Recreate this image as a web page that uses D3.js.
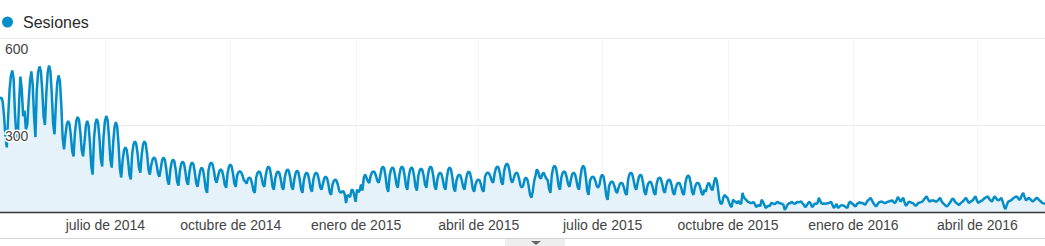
<!DOCTYPE html>
<html>
<head>
<meta charset="utf-8">
<style>
    body { margin: 0; background: #fff; }
    svg { display: block; font-family: Arial, "Liberation Sans", sans-serif; }
    .legend { font-size: 16px; fill: #2a2a2a; }
    .ylab { font-size: 14px; fill: #444; }
    .xaxis text { font-size: 14px; fill: #444; font-family: Arial, "Liberation Sans", sans-serif; }
</style>
<script src="https://d3js.org/d3.v7.min.js"></script>
</head>
<body>
<svg id="chart" width="1045" height="246"></svg>
<script>
    // daily sessions, first day = Tue 15 Apr 2014, one row per week (Mon..Sun)
    var firstDay = "2014-04-15";
    var sesiones = [
        390, 395, 380, 330, 260, 223,
        330, 420, 470, 488, 460, 340, 265,
        255, 380, 467, 420, 330, 350, 285,
        300, 380, 450, 485, 440, 330, 258,
        421, 482, 502, 486, 421, 330, 300,
        410, 481, 505, 486, 410, 304, 268,
        369, 446, 471, 451, 369, 254, 216,
        265, 302, 314, 304, 265, 210, 192,
        274, 314, 328, 317, 274, 212, 192,
        240, 296, 314, 299, 240, 157, 129,
        255, 305, 321, 308, 255, 182, 157,
        260, 313, 331, 317, 260, 180, 153,
        234, 291, 310, 295, 234, 148, 119,
        179, 212, 223, 214, 179, 129, 112,
        201, 233, 244, 235, 201, 152, 136,
        198, 233, 244, 235, 198, 146, 129,
        162, 181, 188, 183, 162, 132, 122,
        150, 179, 188, 180, 150, 108, 94,
        145, 172, 181, 174, 145, 104, 91,
        142, 166, 174, 168, 142, 106, 94,
        137, 163, 171, 164, 137, 100, 87,
        118, 144, 153, 146, 118, 79, 66,
        143, 164, 171, 165, 143, 112, 101,
        122, 141, 147, 142, 122, 93, 84,
        133, 156, 164, 158, 133, 99, 87,
        126, 137, 140, 137, 126, 110, 105,
        98, 114, 119, 115, 98, 74, 66,
        119, 135, 140, 136, 119, 95, 87,
        125, 149, 157, 151, 125, 89, 77,
        115, 134, 140, 135, 115, 86, 77,
        119, 140, 147, 141, 119, 88, 77,
        112, 135, 143, 137, 112, 78, 66,
        110, 129, 136, 131, 110, 80, 70,
        112, 130, 136, 131, 112, 86, 77,
        97, 116, 122, 117, 97, 68, 59,
        94, 107, 112, 108, 94, 73, 66,
        70, 72, 62, 31, 59, 55, 52,
        77, 75, 58, 35, 77, 68, 74,
        95, 74, 118, 129, 118, 106, 100,
        124, 136, 140, 137, 124, 107, 101,
        122, 148, 157, 150, 122, 83, 70,
        126, 147, 154, 148, 126, 95, 84,
        125, 149, 157, 151, 125, 89, 77,
        122, 146, 154, 148, 122, 86, 74,
        124, 143, 150, 145, 124, 94, 84,
        125, 149, 157, 151, 125, 89, 77,
        112, 130, 136, 131, 112, 86, 77,
        120, 146, 154, 147, 120, 83, 70,
        108, 124, 129, 125, 108, 85, 77,
        112, 133, 140, 134, 112, 80, 70,
        95, 108, 112, 109, 95, 76, 70,
        122, 133, 136, 133, 122, 106, 101,
        132, 151, 157, 152, 132, 103, 94,
        141, 160, 167, 162, 141, 111, 101,
        115, 131, 136, 132, 115, 92, 84,
        91, 112, 119, 113, 91, 60, 49,
        70, 105, 125, 147, 140, 120, 115,
        130, 136, 125, 115, 110, 80, 66,
        127, 152, 160, 153, 127, 89, 77,
        119, 135, 140, 136, 119, 95, 87,
        112, 130, 136, 131, 112, 86, 77,
        120, 150, 160, 152, 120, 74, 59,
        107, 118, 122, 119, 107, 90, 84,
        94, 120, 129, 122, 94, 55, 42,
        89, 101, 105, 102, 89, 72, 66,
        84, 97, 101, 98, 84, 65, 59,
        112, 130, 136, 131, 112, 86, 77,
        101, 122, 129, 123, 101, 70, 59,
        87, 100, 105, 101, 87, 66, 59,
        98, 114, 119, 115, 98, 74, 66,
        91, 107, 112, 108, 91, 67, 59,
        84, 97, 101, 98, 84, 65, 59,
        99, 119, 126, 121, 99, 69, 59,
        84, 97, 101, 98, 84, 65, 59,
        77, 70, 90, 101, 95, 80, 75,
        100, 119, 110, 80, 42, 28, 30,
        52, 59, 52, 49, 35, 22, 17,
        42, 38, 35, 30, 38, 30, 28,
        66, 50, 45, 40, 35, 33, 31,
        31, 35, 28, 17, 22, 24, 20,
        42, 35, 25, 14, 18, 22, 20,
        31, 30, 28, 28, 33, 35, 30,
        30, 28, 25, 7, 15, 25, 30,
        30, 35, 32, 28, 30, 35, 33,
        35, 36, 30, 25, 17, 22, 30,
        35, 30, 17, 22, 30, 28, 30,
        49, 38, 30, 28, 30, 28, 30,
        30, 33, 35, 25, 14, 20, 28,
        14, 18, 22, 24, 22, 20, 16,
        14, 30, 36, 30, 28, 22, 19,
        28, 31, 33, 31, 31, 28, 25,
        33, 40, 44, 49, 40, 31, 24,
        19, 26, 33, 35, 36, 34, 31,
        31, 34, 36, 37, 39, 40, 33,
        31, 40, 52, 44, 36, 42, 49,
        32, 21, 28, 36, 34, 32, 31,
        26, 21, 25, 31, 33, 34, 36,
        42, 48, 54, 46, 36, 38, 40,
        40, 38, 36, 38, 44, 49, 38,
        31, 27, 22, 19, 24, 31, 38,
        46, 44, 35, 31, 27, 24, 30,
        34, 38, 44, 49, 40, 31, 34,
        38, 40, 48, 54, 40, 31, 35,
        38, 40, 45, 49, 51, 54, 46,
        40, 36, 45, 54, 48, 42, 40,
        44, 49, 35, 18, 10, 25, 36,
        38, 40, 44, 49, 51, 54, 50,
        42, 45, 58, 66, 52, 40, 44,
        49, 45, 40, 36, 40, 45, 49,
        45, 40, 36, 31, 30, 28
    ];
    var yTicks = [300, 600];
    var tickDates = ["2014-07-01", "2014-10-01", "2015-01-01", "2015-04-01",
                     "2015-07-01", "2015-10-01", "2016-01-01", "2016-04-01"];
    var tickLabels = ["julio de 2014", "octubre de 2014", "enero de 2015", "abril de 2015",
                      "julio de 2015", "octubre de 2015", "enero de 2016", "abril de 2016"];

    var width = 1045, plotTop = 38, plotBottom = 212;
    var parseDay = d3.utcParse("%Y-%m-%d");
    var start = parseDay(firstDay);
    var days = sesiones.map(function (v, i) { return d3.utcDay.offset(start, i); });

    var x = d3.scaleUtc().domain([days[0], days[days.length - 1]]).range([0, width]);
    var y = d3.scaleLinear().domain([0, 600]).range([plotBottom, plotTop]);

    var svg = d3.select("#chart");

    // legend
    svg.append("circle").attr("cx", 7.5).attr("cy", 22).attr("r", 5.5).attr("fill", "#058dc7");
    svg.append("text").attr("class", "legend").attr("x", 23).attr("y", 28).text("Sesiones");

    // grid
    var ticks = tickDates.map(parseDay);
    svg.append("g").selectAll("line").data(ticks).join("line")
        .attr("x1", function (d) { return Math.round(x(d)) + 0.5; })
        .attr("x2", function (d) { return Math.round(x(d)) + 0.5; })
        .attr("y1", plotTop).attr("y2", plotBottom)
        .attr("stroke", "#f6f6f6");
    svg.append("g").selectAll("line").data(yTicks).join("line")
        .attr("x1", 0).attr("x2", width)
        .attr("y1", function (d) { return Math.round(y(d)) + 0.5; })
        .attr("y2", function (d) { return Math.round(y(d)) + 0.5; })
        .attr("stroke", "#ebebeb");

    // area + line
    var area = d3.area()
        .x(function (d, i) { return x(days[i]); })
        .y0(plotBottom)
        .y1(function (d) { return y(d); });
    var line = d3.line()
        .x(function (d, i) { return x(days[i]); })
        .y(function (d) { return y(d); });

    svg.append("path").datum(sesiones).attr("d", area).attr("fill", "#e6f2fa");
    svg.append("path").datum(sesiones).attr("d", line)
        .attr("fill", "none").attr("stroke", "#058dc7").attr("stroke-width", 2.5)
        .attr("stroke-linejoin", "bevel");

    // baseline
    svg.append("line").attr("x1", 0).attr("x2", width)
        .attr("y1", plotBottom + 0.5).attr("y2", plotBottom + 0.5)
        .attr("stroke", "#333").attr("stroke-width", 1.5);

    // y labels
    svg.append("g").selectAll("text").data(yTicks).join("text")
        .attr("class", "ylab")
        .attr("x", 5)
        .attr("y", function (d) { return y(d) + 15.5; })
        .attr("stroke", "#fff").attr("stroke-width", 3).attr("paint-order", "stroke")
        .text(function (d) { return d; });

    // x axis
    var xAxis = d3.axisBottom(x)
        .tickValues(ticks)
        .tickFormat(function (d, i) { return tickLabels[i]; })
        .tickSize(0)
        .tickPadding(8);
    var ax = svg.append("g").attr("class", "xaxis").attr("transform", "translate(0," + plotBottom + ")").call(xAxis);
    ax.select(".domain").remove();

    // bottom border and collapse tab
    svg.append("line").attr("x1", 0).attr("x2", width).attr("y1", 238.5).attr("y2", 238.5)
        .attr("stroke", "#d4d4d4");
    svg.append("rect").attr("x", 505).attr("y", 239).attr("width", 60).attr("height", 7).attr("fill", "#eeeeee");
    svg.append("path").attr("d", "M531,241L541,241L536,245Z").attr("fill", "#666");
</script>
</body>
</html>
